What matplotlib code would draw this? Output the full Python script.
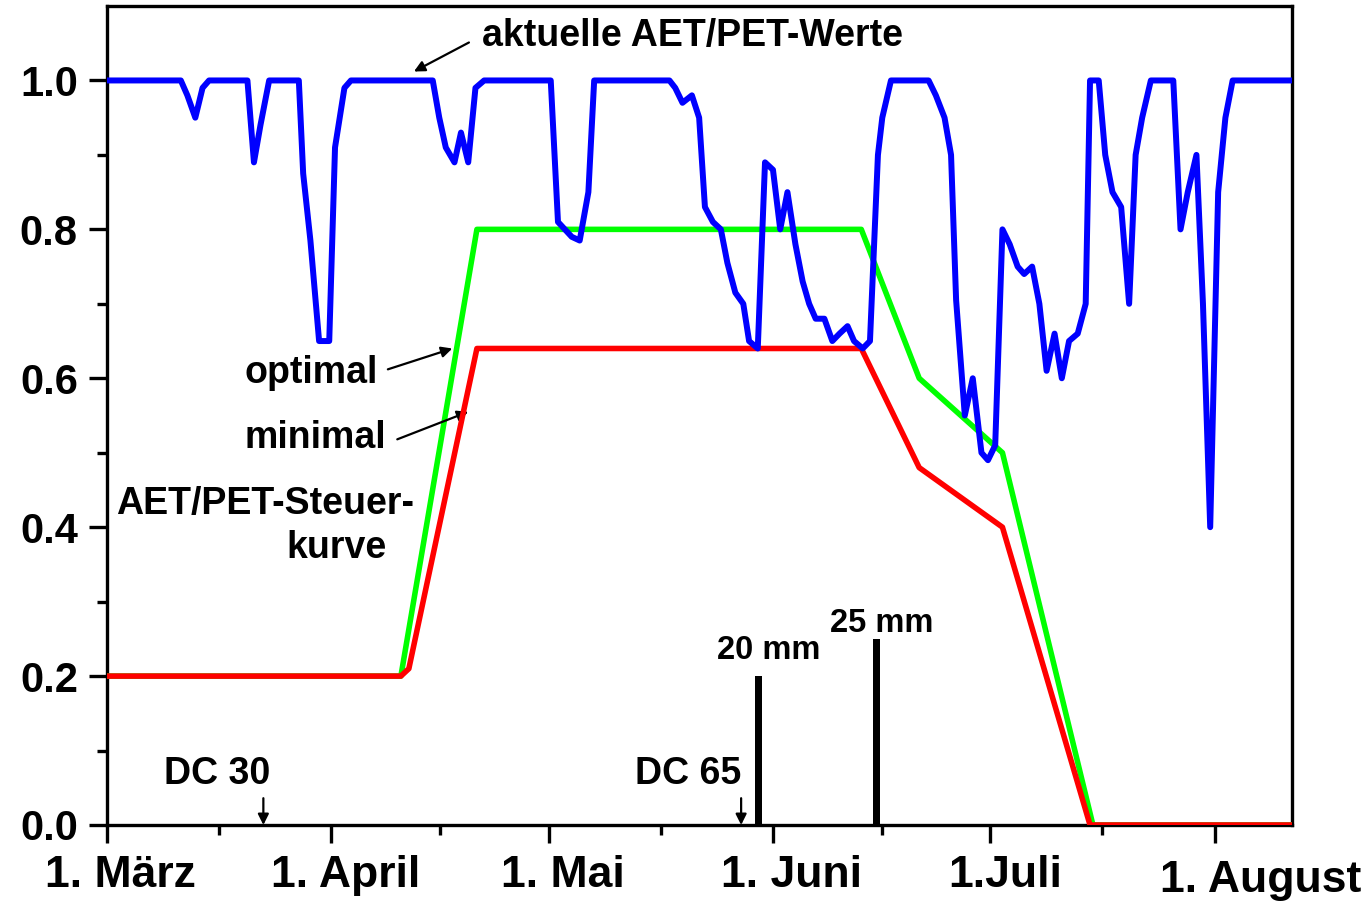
import matplotlib
matplotlib.use('Agg')
import matplotlib.pyplot as plt
from matplotlib.ticker import FixedLocator

plt.rcParams['font.family'] = ['Liberation Sans', 'DejaVu Sans']
plt.rcParams['font.weight'] = 'bold'

# x in days counted from 1. März
month_days = [0, 31, 61, 92, 122, 153]
month_labels = ['1. März', '1. April', '1. Mai', '1. Juni', '1.Juli', '1. August']
mid_month_days = [15.5, 46, 76.5, 107, 137.5]

# aktuelle AET/PET-Werte
aet_days = [0, 10.2, 11.1, 12.2, 13.2, 14.1, 19.4, 20.3, 21.2, 22.4,
            26.5, 27.1, 28.1, 29.3, 30.7, 31.5, 32.8, 33.7, 45.0, 45.9,
            46.8, 48.0, 48.9, 49.9, 50.9, 52.1, 61.3, 62.3, 64.2, 65.3,
            66.5, 67.3, 77.7, 78.5, 79.5, 80.8, 81.8, 82.6, 83.7, 84.8,
            85.7, 86.8, 87.9, 88.7, 89.9, 90.9, 92.0, 93.0, 94.0, 95.1,
            96.1, 97.0, 97.9, 99.1, 100.2, 101.2, 102.3, 103.2, 104.4, 105.4,
            106.5, 107.1, 108.3, 113.5, 114.5, 115.7, 116.6, 117.3, 118.5, 119.6,
            120.8, 121.7, 122.7, 123.7, 124.7, 125.8, 126.7, 127.8, 128.8, 129.8,
            130.9, 131.9, 132.9, 134.1, 135.2, 135.8, 137.0, 137.9, 138.9, 140.1,
            141.2, 142.1, 143.0, 144.2, 147.3, 148.3, 149.3, 150.5, 151.4, 152.4,
            153.5, 154.5, 155.5, 163.6]
aet_vals = [1.0, 1.0, 0.98, 0.95, 0.99, 1.0, 1.0, 0.89, 0.94, 1.0,
            1.0, 0.875, 0.785, 0.65, 0.65, 0.91, 0.99, 1.0, 1.0, 0.95,
            0.91, 0.89, 0.93, 0.89, 0.99, 1.0, 1.0, 0.81, 0.79, 0.785,
            0.85, 1.0, 1.0, 0.99, 0.97, 0.98, 0.95, 0.83, 0.81, 0.80,
            0.755, 0.715, 0.70, 0.65, 0.64, 0.89, 0.88, 0.80, 0.85, 0.78,
            0.73, 0.70, 0.68, 0.68, 0.65, 0.66, 0.67, 0.65, 0.64, 0.65,
            0.90, 0.95, 1.0, 1.0, 0.98, 0.95, 0.90, 0.705, 0.55, 0.60,
            0.50, 0.49, 0.51, 0.80, 0.78, 0.75, 0.74, 0.75, 0.70, 0.61,
            0.66, 0.60, 0.65, 0.66, 0.70, 1.0, 1.0, 0.90, 0.85, 0.83,
            0.70, 0.90, 0.95, 1.0, 1.0, 0.80, 0.85, 0.90, 0.70, 0.40,
            0.85, 0.95, 1.0, 1.0]

# Steuerkurve optimal / minimal
opt_days = [0, 40.6, 51.1, 104.2, 112.2, 123.7, 136.2, 163.6]
opt_vals = [0.2, 0.2, 0.8, 0.8, 0.6, 0.5, 0.0, 0.0]
min_days = [0, 40.6, 41.7, 51.1, 104.2, 112.2, 123.7, 135.8, 163.6]
min_vals = [0.2, 0.2, 0.21, 0.64, 0.64, 0.48, 0.40, 0.0, 0.0]

# Beregnung
irr_days = [90.0, 106.3]
irr_vals = [0.2, 0.25]
irr_labels = ['20 mm', '25 mm']

fig = plt.figure(figsize=(13.69, 9.01), dpi=100)
ax = fig.add_axes([107/1369, 76/901, 1185/1369, 819/901])

ax.bar(irr_days, irr_vals, width=1.05, color='black', zorder=2)
ax.plot(opt_days, opt_vals, color='#00ff00', lw=4.0, zorder=3)
ax.plot(min_days, min_vals, color='#ff0000', lw=4.0, zorder=4)
ax.plot(aet_days, aet_vals, color='#0000ff', lw=4.3, zorder=5)

ax.set_xlim(0, 163.7)
ax.set_ylim(0, 1.1)

ax.set_yticks([0.0, 0.2, 0.4, 0.6, 0.8, 1.0])
ax.set_yticklabels(['0.0', '0.2', '0.4', '0.6', '0.8', '1.0'], fontsize=30, fontweight='bold')
ax.yaxis.set_minor_locator(FixedLocator([0.1, 0.3, 0.5, 0.7, 0.9]))
ax.set_xticks(month_days)
ax.set_xticklabels([])
ax.xaxis.set_minor_locator(FixedLocator(mid_month_days))

ax.tick_params(which='major', direction='out', length=13, width=2.4, pad=8)
ax.tick_params(which='minor', direction='out', length=7, width=2.4)
for sp in ax.spines.values():
    sp.set_linewidth(2.4)

# month labels sit a bit right of their ticks, August lower
lab_shift = [1.8, 2.0, 2.0, 2.5, 2.1, 6.4]
lab_y = [-0.0757] * 5 + [-0.0818]
for d, lab, s, yy in zip(month_days, month_labels, lab_shift, lab_y):
    ax.text(d + s, yy, lab, transform=ax.get_xaxis_transform(), ha='center',
            va='baseline', fontsize=32, fontweight='bold', clip_on=False)

fs = 27
arrow = dict(arrowstyle='-|>', color='black', lw=1.6, mutation_scale=16,
             shrinkA=0, shrinkB=0)

ax.text(51.8, 1.046, 'aktuelle AET/PET-Werte', fontsize=fs, ha='left', va='baseline')
ax.annotate('', xy=(42.4, 1.012), xytext=(50.0, 1.051), arrowprops=arrow)

ax.text(37.4, 0.594, 'optimal', fontsize=fs, ha='right', va='baseline')
ax.annotate('', xy=(47.7, 0.640), xytext=(38.8, 0.612), arrowprops=arrow)

ax.text(38.6, 0.507, 'minimal', fontsize=fs, ha='right', va='baseline')
ax.annotate('', xy=(49.9, 0.555), xytext=(40.1, 0.518), arrowprops=arrow)

ax.text(1.2, 0.418, 'AET/PET-Steuer-', fontsize=fs, ha='left', va='baseline')
ax.text(38.6, 0.359, 'kurve', fontsize=fs, ha='right', va='baseline')

ax.text(7.9, 0.055, 'DC 30', fontsize=fs, ha='left', va='baseline')
ax.annotate('', xy=(21.6, 0.0), xytext=(21.6, 0.036), arrowprops=arrow)
ax.text(73.0, 0.055, 'DC 65', fontsize=fs, ha='left', va='baseline')
ax.annotate('', xy=(87.6, 0.0), xytext=(87.6, 0.036), arrowprops=arrow)

ax.text(84.3, 0.223, irr_labels[0], fontsize=23.5, ha='left', va='baseline')
ax.text(99.9, 0.259, irr_labels[1], fontsize=23.5, ha='left', va='baseline')

fig.savefig('out.png', dpi=100)
